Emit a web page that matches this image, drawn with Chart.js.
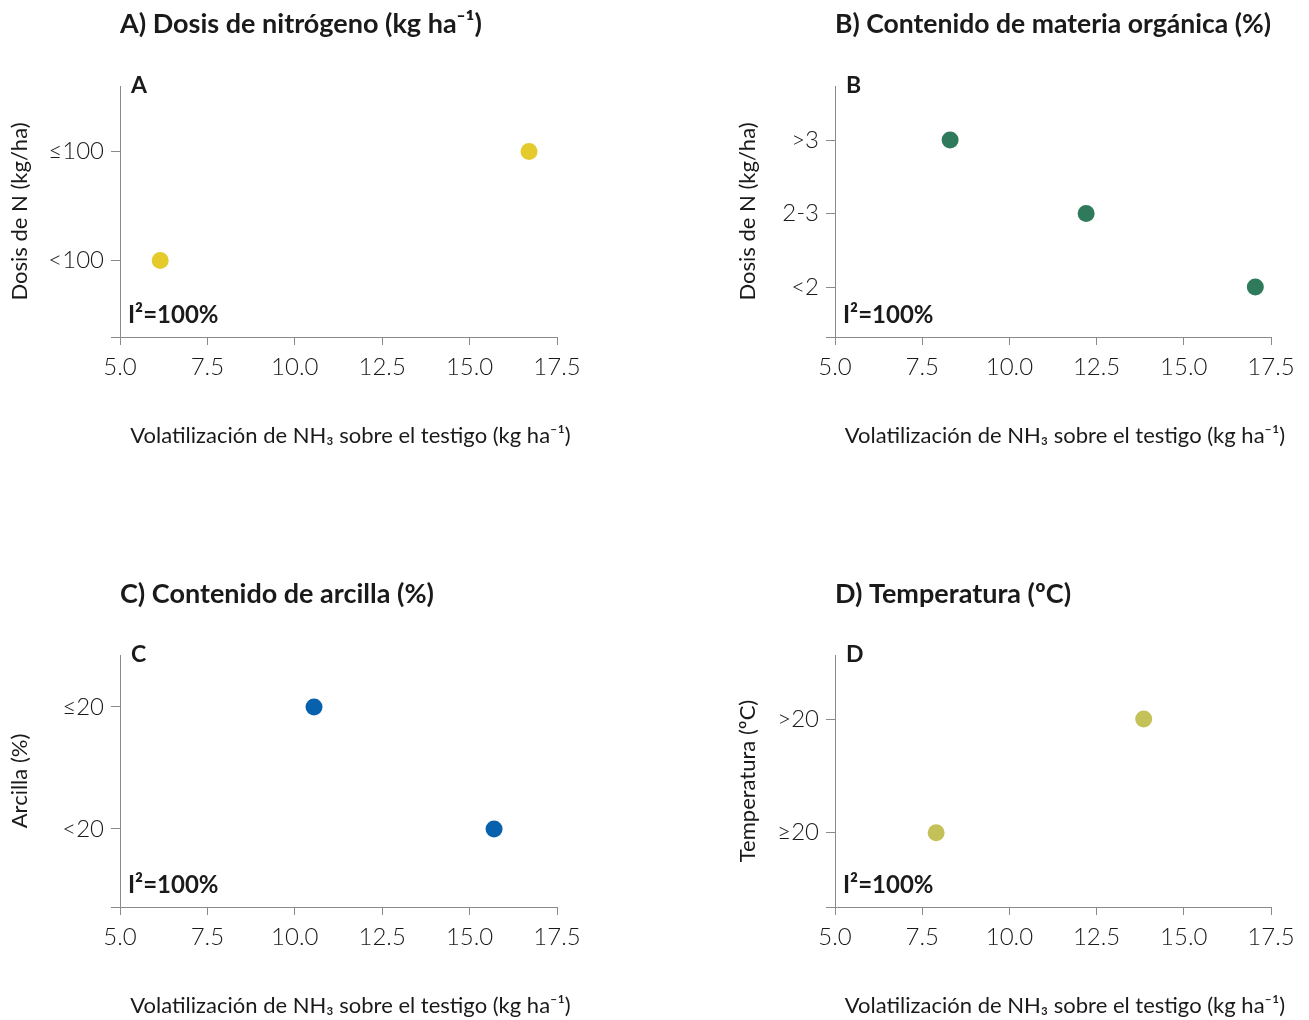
<!DOCTYPE html>
<html>
<head>
<meta charset="utf-8">
<script src="https://cdn.jsdelivr.net/npm/chart.js@4.4.1/dist/chart.umd.min.js"></script>
<style>
  html, body { margin: 0; padding: 0; background: #ffffff; }
  #wrap { position: relative; width: 1309px; height: 1020px; }
  .panel { position: absolute; }
</style>
</head>
<body>
<div id="wrap">
  <div class="panel" style="left:0;top:0;width:654px;height:510px"><canvas id="cA"></canvas></div>
  <div class="panel" style="left:654px;top:0;width:655px;height:510px"><canvas id="cB"></canvas></div>
  <div class="panel" style="left:0;top:510px;width:654px;height:510px"><canvas id="cC"></canvas></div>
  <div class="panel" style="left:654px;top:510px;width:655px;height:510px"><canvas id="cD"></canvas></div>
</div>
<script>
// ---------- DATA ----------
const xTickValues = [5.0, 7.5, 10.0, 12.5, 15.0, 17.5];
const xAxisTitle = 'Volatilización de NH\u2083 sobre el testigo (kg ha\u207B\u00B9)';
const heterogeneity = 'I\u00B2=100%';

const titleA = 'A) Dosis de nitrógeno (kg ha\u207B\u00B9)';
const yTitleA = 'Dosis de N (kg/ha)';
const categoriesA = ['<100', '\u2264100'];
const valuesA = [6.15, 16.7];

const titleB = 'B) Contenido de materia orgánica (%)';
const yTitleB = 'Dosis de N (kg/ha)';
const categoriesB = ['<2', '2-3', '>3'];
const valuesB = [17.05, 12.2, 8.3];

const titleC = 'C) Contenido de arcilla (%)';
const yTitleC = 'Arcilla (%)';
const categoriesC = ['<20', '\u226420'];
const valuesC = [15.7, 10.55];

const titleD = 'D) Temperatura (ºC)';
const yTitleD = 'Temperatura (ºC)';
const categoriesD = ['\u226520', '>20'];
const valuesD = [7.9, 13.85];

// ---------- STYLE ----------
const FONT = 'Lato, "Noto Sans", sans-serif';
const AXIS = '#8a8a8a';
const TEXT = '#1a1a1a';

const panelLabelPlugin = {
  id: 'panelLabel',
  afterDraw(chart) {
    const o = chart.options.plugins.panelLabel;
    if (!o) return;
    const ctx = chart.ctx, a = chart.chartArea;
    ctx.save();
    ctx.fillStyle = TEXT;
    ctx.textAlign = 'left';
    ctx.textBaseline = 'middle';
    ctx.font = 'bold 23px ' + FONT;
    ctx.fillText(o.letter, a.left + 11, a.top);
    ctx.font = 'bold 24px ' + FONT;
    ctx.fillText(o.note, a.left + 8, a.bottom - 22);
    // x axis title
    ctx.textAlign = 'center';
    ctx.font = '22px ' + FONT;
    ctx.fillText(o.xTitle, (a.left + a.right) / 2 + 12, a.bottom + 99);
    ctx.restore();
  }
};

function makeChart(id, cfg) {
  const cats = cfg.categories;
  const pts = cfg.values.map((v, i) => ({ x: v, y: i + 1 }));
  new Chart(document.getElementById(id), {
    type: 'scatter',
    data: {
      datasets: [{
        data: pts,
        backgroundColor: cfg.color,
        borderColor: cfg.color,
        pointRadius: 8.5,
        pointHoverRadius: 8.5,
        borderWidth: 0
      }]
    },
    options: {
      responsive: true,
      maintainAspectRatio: false,
      animation: false,
      events: [],
      layout: { padding: { left: 0, right: cfg.padRight, top: 0, bottom: 0 } },
      plugins: {
        legend: { display: false },
        tooltip: { enabled: false },
        title: {
          display: true,
          text: cfg.title,
          align: 'start',
          fullSize: false,
          color: TEXT,
          font: { family: FONT, size: 27, weight: 'bold', lineHeight: 1.2 },
          padding: { top: cfg.titlePadTop, bottom: cfg.titlePadBottom }
        },
        panelLabel: { letter: cfg.letter, note: heterogeneity, xTitle: xAxisTitle }
      },
      scales: {
        x: {
          type: 'linear',
          min: xTickValues[0],
          max: xTickValues[xTickValues.length - 1],
          afterBuildTicks: (s) => { s.ticks = xTickValues.map(v => ({ value: v })); },
          afterFit: (s) => { s.height = cfg.xAxisHeight; },
          ticks: {
            color: TEXT,
            padding: 8,
            maxRotation: 0,
            font: { family: FONT, size: 24, weight: '300' },
            callback: (v) => Number(v).toFixed(1)
          },
          grid: { drawOnChartArea: false, drawTicks: true, tickLength: 8, color: AXIS, lineWidth: 1 },
          border: { display: true, color: AXIS, width: 1 },
          title: { display: false }
        },
        y: {
          type: 'linear',
          min: cfg.yMin,
          max: cfg.yMax,
          afterBuildTicks: (s) => {
            s.ticks = [{ value: cfg.yMin }].concat(cats.map((c, i) => ({ value: i + 1 })));
          },
          afterFit: (s) => { s.width = cfg.yAxisWidth; },
          ticks: {
            color: TEXT,
            padding: 7,
            font: { family: FONT, size: 24, weight: '300' },
            callback: (v) => {
              const idx = Math.round(v) - 1;
              return (Math.abs(v - Math.round(v)) < 1e-6 && idx >= 0 && idx < cats.length) ? cats[idx] : '';
            }
          },
          grid: { drawOnChartArea: false, drawTicks: true, tickLength: 9, color: AXIS, lineWidth: 1 },
          border: { display: true, color: AXIS, width: 1 },
          title: {
            display: true,
            text: cfg.yTitle,
            color: TEXT,
            font: { family: FONT, size: 22, lineHeight: 1.2 },
            padding: { top: cfg.yTitlePad, bottom: 0 }
          }
        }
      }
    },
    plugins: [panelLabelPlugin]
  });
}

makeChart('cA', {
  title: titleA, yTitle: yTitleA, categories: categoriesA, values: valuesA,
  color: '#E4CB2B', letter: 'A',
  yMin: 0.3, yMax: 2.6,
  padRight: 97, yAxisWidth: 120, xAxisHeight: 173,
  titlePadTop: 7.8, titlePadBottom: 45.8, yTitlePad: 6.8
});
makeChart('cB', {
  title: titleB, yTitle: yTitleB, categories: categoriesB, values: valuesB,
  color: '#2F7A5B', letter: 'B',
  yMin: 0.32, yMax: 3.735,
  padRight: 38, yAxisWidth: 181, xAxisHeight: 173,
  titlePadTop: 7.8, titlePadBottom: 45.8, yTitlePad: 80.8
});
makeChart('cC', {
  title: titleC, yTitle: yTitleC, categories: categoriesC, values: valuesC,
  color: '#0761AD', letter: 'C',
  yMin: 0.36, yMax: 2.426,
  padRight: 97, yAxisWidth: 120, xAxisHeight: 113,
  titlePadTop: 67.8, titlePadBottom: 44.8, yTitlePad: 6.8
});
makeChart('cD', {
  title: titleD, yTitle: yTitleD, categories: categoriesD, values: valuesD,
  color: '#C4C158', letter: 'D',
  yMin: 0.347, yMax: 2.563,
  padRight: 38, yAxisWidth: 181, xAxisHeight: 113,
  titlePadTop: 67.8, titlePadBottom: 44.8, yTitlePad: 80.8
});
</script>
</body>
</html>
